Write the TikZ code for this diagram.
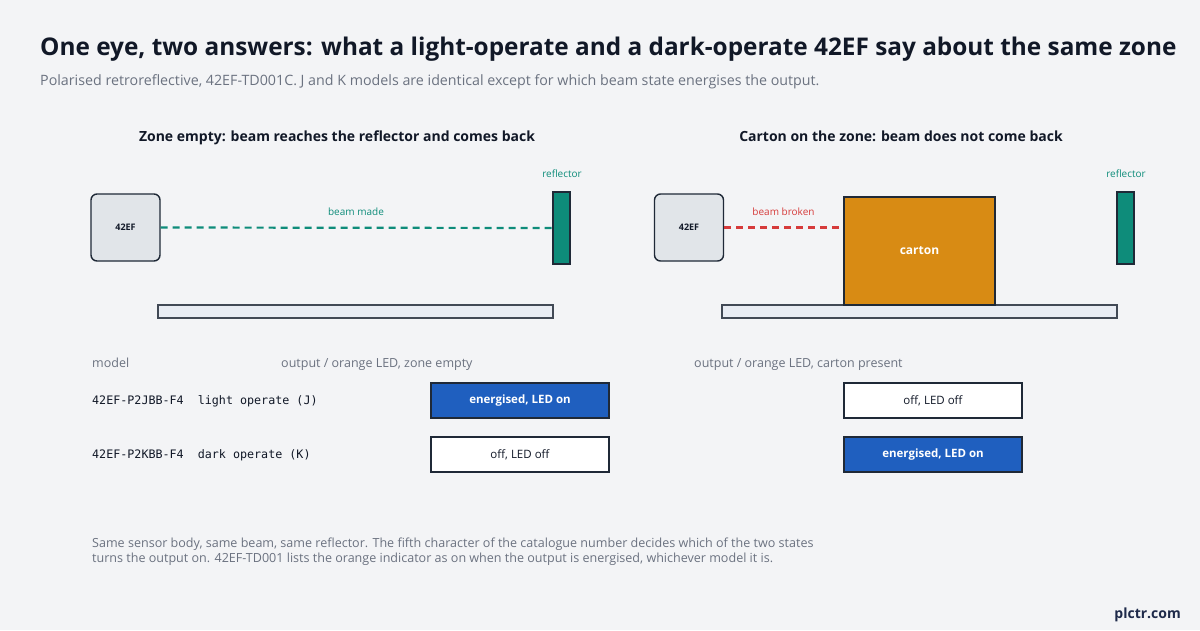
\documentclass[tikz,border=0pt]{standalone}
\usepackage{fontspec}
\setmainfont{Open Sans}
\setsansfont{Open Sans}
\setmonofont{DejaVu Sans Mono}
\definecolor{zoneBg}{HTML}{F3F4F6}
\definecolor{zoneInk}{HTML}{111827}
\definecolor{zoneGrey}{HTML}{6B7280}
\definecolor{zoneLine}{HTML}{1F2937}
\definecolor{zoneBody}{HTML}{E1E5E9}
\definecolor{zoneBelt}{HTML}{E8ECF3}
\definecolor{zoneTeal}{HTML}{0E8C7A}
\definecolor{zoneRed}{HTML}{D63B3B}
\definecolor{zoneCarton}{HTML}{D88B14}
\definecolor{zoneOn}{HTML}{1F5FBF}
\definecolor{zoneBrand}{HTML}{1E2A4A}
\tikzset{
  sensorbox/.style={draw=zoneLine, fill=zoneBody, line width=1.4pt, rounded corners=6pt,
    minimum width=69pt, minimum height=67pt, inner sep=0pt, font=\sffamily\fontsize{9}{10}\selectfont\bfseries, text=zoneInk},
  reflbox/.style={draw=zoneLine, fill=zoneTeal, line width=1.1pt, minimum width=17pt, minimum height=72pt, inner sep=0pt},
  beltbox/.style={draw=zoneLine!85, fill=zoneBelt, line width=1.1pt, minimum width=395pt, minimum height=13pt, inner sep=0pt},
  statebox/.style={draw=zoneLine, line width=1.1pt, minimum width=178pt, minimum height=35pt, inner sep=0pt,
    font=\sffamily\fontsize{11.5}{13}\selectfont},
  stateon/.style={statebox, fill=zoneOn, text=white, font=\sffamily\fontsize{11.5}{13}\selectfont\bfseries},
  stateoff/.style={statebox, fill=white, text=zoneInk},
  beamline/.style={line width=2.2pt, dash pattern=on 7pt off 5pt},
  tiny/.style={anchor=base, font=\sffamily\fontsize{10}{12}\selectfont, inner sep=0pt},
  colhead/.style={anchor=base west, inner sep=0pt, text=zoneGrey, font=\sffamily\fontsize{12.5}{14}\selectfont},
  modelname/.style={anchor=base west, inner sep=0pt, text=zoneInk, font=\ttfamily\fontsize{11.7}{14}\selectfont},
  panelhead/.style={anchor=base, inner sep=0pt, text=zoneInk, font=\sffamily\fontsize{14}{16}\selectfont\bfseries},
}
\begin{document}
\begin{tikzpicture}[x=1pt, y=-1pt, font=\sffamily]
\fill[zoneBg] (0,0) rectangle (1200,630);
\useasboundingbox (0,0) rectangle (1200,630);
% header
\node[anchor=base west, inner sep=0pt, text=zoneInk, font=\sffamily\fontsize{24.35}{28}\selectfont\bfseries]
  (title) at (40,55) {One eye, two answers: what a light-operate and a dark-operate 42EF say about the same zone};
\node[anchor=base west, inner sep=0pt, text=zoneGrey, font=\sffamily\fontsize{14.25}{16}\selectfont]
  (subtitle) at (40,85) {Polarised retroreflective, 42EF-TD001C. J and K models are identical except for which beam state energises the output.};
% panel heads
\node[panelhead] (headL) at (337,141) {Zone empty: beam reaches the reflector and comes back};
\node[panelhead] (headR) at (901,141) {Carton on the zone: beam does not come back};
% zone empty
\node[beltbox] (beltL) at (355.5,311.5) {};
\node[sensorbox] (sensL) at (125.5,227.5) {42EF};
\node[reflbox] (reflL) at (561.5,228) {};
\draw[beamline, draw=zoneTeal] (sensL.east) -- (reflL.west);
\node[tiny, text=zoneTeal] (madelab) at (356,215) {beam made};
\node[tiny, text=zoneTeal] (reflLlab) at (562,177) {reflector};
% carton on the zone
\node[beltbox] (beltR) at (919.5,311.5) {};
\node[sensorbox] (sensR) at (689,227.5) {42EF};
\node[draw=zoneLine, fill=zoneCarton, line width=1.3pt, minimum width=151pt, minimum height=108pt, inner sep=0pt,
  text=white, font=\sffamily\fontsize{12}{14}\selectfont\bfseries] (carton) at (919.5,251) {carton};
\node[reflbox] (reflR) at (1125.5,228) {};
\node[tiny, text=zoneTeal] (reflRlab) at (1126,177) {reflector};
\coordinate (stop) at ([xshift=-3pt]carton.west |- sensR.east);
\draw[beamline, draw=zoneRed] (sensR.east) -- (stop);
\node[tiny, text=zoneRed] (brokenlab) at (783.5,215) {beam broken};
% table
\node[colhead] (hmodel) at (92,367) {model};
\node[colhead] (hempty) at (281,367) {output / orange LED, zone empty};
\node[colhead] (hcarton) at (694,367) {output / orange LED, carton present};
\node[modelname] (modelJ) at (92,404) {42EF-P2JBB-F4\ \ light operate (J)};
\node[modelname] (modelK) at (92,458) {42EF-P2KBB-F4\ \ dark operate (K)};
\node[stateon] (jEmpty) at (520,400.5) {energised, LED on};
\node[stateoff] (jCarton) at (933,400.5) {off, LED off};
\node[stateoff] (kEmpty) at (520,454.5) {off, LED off};
\node[stateon] (kCarton) at (933,454.5) {energised, LED on};
% note
\node[anchor=base west, inner sep=0pt, text=zoneGrey, font=\sffamily\fontsize{12.55}{15}\selectfont]
  (note) at (92,547) {Same sensor body, same beam, same reflector. The fifth character of the catalogue number decides which of the two states};
\node[anchor=base west, inner sep=0pt, text=zoneGrey, font=\sffamily\fontsize{12.55}{15}\selectfont]
  (note2) at (92,562) {turns the output on. 42EF-TD001 lists the orange indicator as on when the output is energised, whichever model it is.};
\node[anchor=base east, inner sep=0pt, text=zoneBrand, font=\sffamily\fontsize{14}{16}\selectfont\bfseries]
  (brand) at (1181,618) {plctr.com};
\end{tikzpicture}
\end{document}
